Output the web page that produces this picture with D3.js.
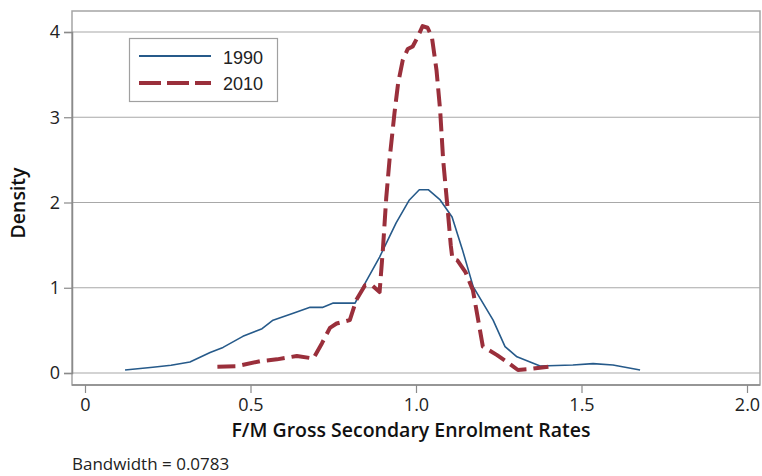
<!DOCTYPE html>
<html><head><meta charset="utf-8">
<script src="https://cdn.jsdelivr.net/npm/d3@7"></script>
<style>body{margin:0;background:#fff}svg{display:block}</style>
</head><body>
<script>
const x1990 = [0.121,0.205,0.26,0.317,0.378,0.417,0.477,0.535,0.568,0.629,0.68,0.719,0.75,0.816,0.84,0.89,0.94,0.98,1.01,1.037,1.073,1.109,1.14,1.173,1.233,1.269,1.305,1.375,1.474,1.535,1.595,1.677];
const y1990 = [0.035,0.067,0.09,0.13,0.24,0.30,0.43,0.52,0.62,0.70,0.77,0.77,0.82,0.82,1.01,1.36,1.76,2.03,2.15,2.15,2.03,1.83,1.45,1.01,0.62,0.31,0.19,0.082,0.094,0.11,0.094,0.035];
const x2010 = [0.40,0.46,0.53,0.58,0.64,0.69,0.716,0.74,0.76,0.80,0.82,0.846,0.867,0.89,0.90,0.91,0.92,0.935,0.946,0.96,0.975,0.99,1.005,1.02,1.035,1.048,1.062,1.073,1.082,1.095,1.105,1.11,1.125,1.15,1.172,1.202,1.245,1.275,1.308,1.335,1.40];
const y2010 = [0.074,0.08,0.14,0.16,0.20,0.17,0.35,0.53,0.58,0.62,0.86,1.03,1.03,0.95,1.45,2.05,2.5,3.05,3.40,3.67,3.80,3.83,3.94,4.07,4.05,3.94,3.55,3.08,2.5,1.95,1.50,1.34,1.32,1.18,0.97,0.31,0.21,0.13,0.035,0.043,0.074];
const xTicks = [0,0.5,1.0,1.5,2.0];
const xTickLabels = ["0","0.5","1.0","1.5","2.0"];
const yTicks = [0,1,2,3,4];
const seriesNames = ["1990","2010"];

const W=762,H=476;
const svg=d3.select("body").append("svg").attr("width",W).attr("height",H);
const frame={l:72,t:11,r:761,b:385};
const x=d3.scaleLinear().domain([0,2]).range([85,747]);
const y=d3.scaleLinear().domain([0,4]).range([373,32]);

// frame
svg.append("rect").attr("x",frame.l).attr("y",frame.t).attr("width",frame.r-frame.l-1).attr("height",frame.b-frame.t)
  .attr("fill","none").attr("stroke","#a5a5a5").attr("stroke-width",1.5);

// grid
svg.append("g").selectAll("line").data(yTicks).join("line")
  .attr("x1",frame.l).attr("x2",frame.r-1).attr("y1",d=>y(d)).attr("y2",d=>y(d))
  .attr("stroke","#a8a8a8").attr("stroke-width",1.2);

// axes
const yAxis=d3.axisLeft(y).tickValues(yTicks).tickSize(8).tickPadding(4).tickFormat(d3.format("d"));
const gy=svg.append("g").attr("transform",`translate(${frame.l},0)`).call(yAxis);
gy.select(".domain").attr("stroke","#8a8a8a").attr("stroke-width",1.5);
gy.selectAll(".tick line").attr("stroke","#8a8a8a").attr("stroke-width",1.2);
gy.selectAll("text").attr("font-family","Open Sans, sans-serif").attr("font-size",18).attr("fill","#222");

const xAxis=d3.axisBottom(x).tickValues(xTicks).tickSize(8).tickPadding(5).tickFormat((d,i)=>xTickLabels[i]);
const gx=svg.append("g").attr("transform",`translate(0,${frame.b})`).call(xAxis);
gx.select(".domain").attr("stroke","#8a8a8a").attr("stroke-width",1.5).attr("d",`M${frame.l},0H${frame.r-1}`);
gx.selectAll(".tick line").attr("stroke","#8a8a8a").attr("stroke-width",1.2);
gx.selectAll("text").attr("font-family","Open Sans, sans-serif").attr("font-size",18).attr("fill","#222");

// lines
const line=d3.line().x(d=>x(d[0])).y(d=>y(d[1]));
svg.append("path").datum(x1990.map((v,i)=>[v,y1990[i]])).attr("d",line)
  .attr("fill","none").attr("stroke","#265a8a").attr("stroke-width",1.6).attr("stroke-linejoin","round");
svg.append("path").datum(x2010.map((v,i)=>[v,y2010[i]])).attr("d",line)
  .attr("fill","none").attr("stroke","#9a2f3b").attr("stroke-width",4).attr("stroke-dasharray","18,7").attr("stroke-linejoin","round");

// legend
const lg=svg.append("g");
lg.append("rect").attr("x",129.5).attr("y",38.5).attr("width",148).attr("height",63).attr("fill","#fff").attr("stroke","#a0a0a0").attr("stroke-width",1.2);
lg.append("line").attr("x1",139).attr("x2",211).attr("y1",56).attr("y2",56).attr("stroke","#265a8a").attr("stroke-width",1.8);
lg.append("line").attr("x1",139).attr("x2",211).attr("y1",83).attr("y2",83).attr("stroke","#9a2f3b").attr("stroke-width",4).attr("stroke-dasharray","22,6");
lg.selectAll("text").data(seriesNames).join("text").attr("x",223).attr("y",(d,i)=>58+i*26).attr("dy","0.36em")
  .attr("font-family","Liberation Sans, Arial, sans-serif").attr("font-size",18).attr("fill","#222").text(d=>d);

// titles
svg.append("text").attr("transform","translate(25,203) rotate(-90)").attr("text-anchor","middle")
  .attr("font-family","Open Sans, sans-serif").attr("font-weight",600).attr("font-size",19.5).attr("fill","#111").text("Density");
svg.append("text").attr("x",411).attr("y",437).attr("text-anchor","middle")
  .attr("font-family","Open Sans, sans-serif").attr("font-weight",600).attr("font-size",19.5).attr("fill","#111").text("F/M Gross Secondary Enrolment Rates");
svg.append("text").attr("x",72).attr("y",470)
  .attr("font-family","Open Sans, sans-serif").attr("font-size",17).attr("fill","#222").text("Bandwidth = 0.0783");
</script>
</body></html>
